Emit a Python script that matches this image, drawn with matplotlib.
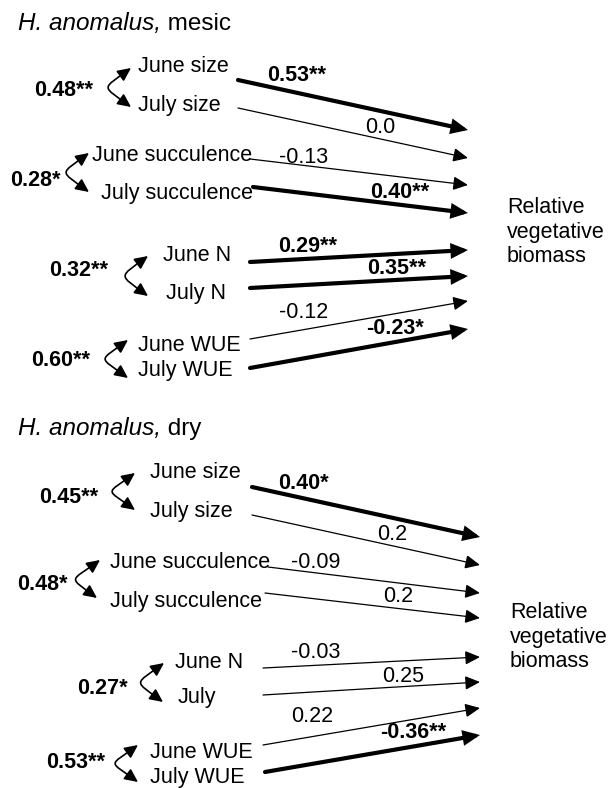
import matplotlib.pyplot as plt
from matplotlib.patches import FancyArrowPatch
from matplotlib.path import Path

plt.rcParams['font.family'] = ['Liberation Sans', 'DejaVu Sans']

# path coefficients onto relative vegetative biomass
mesic_traits = ["June size", "July size", "June succulence", "July succulence",
                "June N", "July N", "June WUE", "July WUE"]
mesic_coef = ["0.53", "0.0", "-0.13", "0.40", "0.29", "0.35", "-0.12", "-0.23"]
mesic_sig = ["**", "", "", "**", "**", "**", "", "*"]
mesic_corr = ["0.48", "0.28", "0.32", "0.60"]
mesic_corr_sig = ["**", "*", "**", "**"]

dry_traits = ["June size", "July size", "June succulence", "July succulence",
              "June N", "July", "June WUE", "July WUE"]
dry_coef = ["0.40", "0.2", "-0.09", "0.2", "-0.03", "0.25", "0.22", "-0.36"]
dry_sig = ["*", "", "", "", "", "", "", "**"]
dry_corr = ["0.45", "0.48", "0.27", "0.53"]
dry_corr_sig = ["**", "*", "*", "**"]

response = "Relative\nvegetative\nbiomass"

# layout in pixel units (y grows downwards)
mesic_layout = dict(
    title_y=23,
    label_x=[138, 138, 92, 101, 163, 166, 138, 138],
    label_y=[66, 105, 155, 193, 255, 293, 345, 370],
    start=[(238, 80), (238, 108), (250, 159), (253, 187),
           (250, 262), (250, 288), (250, 339), (250, 368)],
    end=[(468, 130), (468, 158), (468, 185), (468, 213),
         (468, 250), (468, 276), (468, 301), (468, 329)],
    coef_xy=[(297, 75), (380, 127), (304, 157), (400, 192),
             (308, 246), (397, 269), (304, 312), (395, 328)],
    corr_xy=[(64, 90), (35, 180), (79, 270), (61, 360)],
    curve=[((131, 68), (131, 107)), ((89, 153), (89, 192)),
           ((148, 256), (148, 296)), ((128, 340), (128, 378))],
    resp_xy=(507, 232),
)

dry_layout = dict(
    title_y=428,
    label_x=[150, 150, 110, 110, 175, 178, 150, 150],
    label_y=[472, 511, 562, 602, 662, 698, 752, 777],
    start=[(252, 487), (252, 515), (268, 567), (265, 593),
           (263, 668), (263, 695), (263, 745), (265, 772)],
    end=[(480, 537), (480, 565), (480, 593), (480, 618),
         (480, 657), (480, 682), (480, 708), (480, 735)],
    coef_xy=[(303, 483), (392, 535), (316, 563), (398, 597),
             (316, 652), (403, 676), (312, 716), (413, 733)],
    corr_xy=[(69, 497), (42, 584), (102, 688), (76, 763)],
    curve=[((135, 473), (135, 510)), ((100, 560), (97, 598)),
           ((164, 663), (163, 702)), ((138, 745), (138, 782))],
    resp_xy=(510, 637),
)

FS = 15.5


def corr_arrow(ax, top, bot):
    # curved double-headed arrow bulging to the left
    (x0, y0), (x1, y1) = bot, top
    verts = [(x0, y0), (x0 - 30, y0 - 22), (x1 - 30, y1 + 22), (x1, y1)]
    codes = [Path.MOVETO, Path.CURVE4, Path.CURVE4, Path.CURVE4]
    p = FancyArrowPatch(path=Path(verts, codes),
                        arrowstyle='<|-|>,head_length=8,head_width=3.8',
                        mutation_scale=1, lw=1.2, color='black')
    ax.add_patch(p)


def draw_panel(ax, env, traits, coef, sig, corr, corr_sig, lay):
    t = ax.text(18, lay['title_y'], "H. anomalus,", fontsize=17.5, style='italic',
                ha='left', va='center')
    ax.annotate(" " + env, xy=(1, 0), xycoords=t, fontsize=17.5,
                ha='left', va='bottom')

    for i, name in enumerate(traits):
        ax.text(lay['label_x'][i], lay['label_y'][i], name, fontsize=FS,
                ha='left', va='center')
        bold = sig[i] != ""
        style = ('-|>,head_length=7.5,head_width=3.4' if bold
                 else '-|>,head_length=9,head_width=4.2')
        arr = FancyArrowPatch(lay['start'][i], lay['end'][i],
                              arrowstyle=style, mutation_scale=1,
                              shrinkA=0, shrinkB=0,
                              lw=3.0 if bold else 0.9, color='black',
                              joinstyle='miter')
        ax.add_patch(arr)
        cx, cy = lay['coef_xy'][i]
        ax.text(cx, cy, coef[i] + sig[i], fontsize=FS, ha='center', va='center',
                fontweight='bold' if bold else 'normal')

    for j, r in enumerate(corr):
        cx, cy = lay['corr_xy'][j]
        ax.text(cx, cy, r + corr_sig[j], fontsize=FS, fontweight='bold',
                ha='center', va='center')
        top, bot = lay['curve'][j]
        corr_arrow(ax, top, bot)

    rx, ry = lay['resp_xy']
    ax.text(rx, ry, response, fontsize=FS, ha='left', va='center',
            linespacing=1.22)


fig = plt.figure(figsize=(6.1, 7.88), dpi=100)
ax = fig.add_axes([0, 0, 1, 1])
ax.set_xlim(0, 610)
ax.set_ylim(788, 0)
ax.axis('off')

draw_panel(ax, "mesic", mesic_traits, mesic_coef, mesic_sig,
           mesic_corr, mesic_corr_sig, mesic_layout)
draw_panel(ax, "dry", dry_traits, dry_coef, dry_sig,
           dry_corr, dry_corr_sig, dry_layout)

fig.savefig("out.png", dpi=100)
